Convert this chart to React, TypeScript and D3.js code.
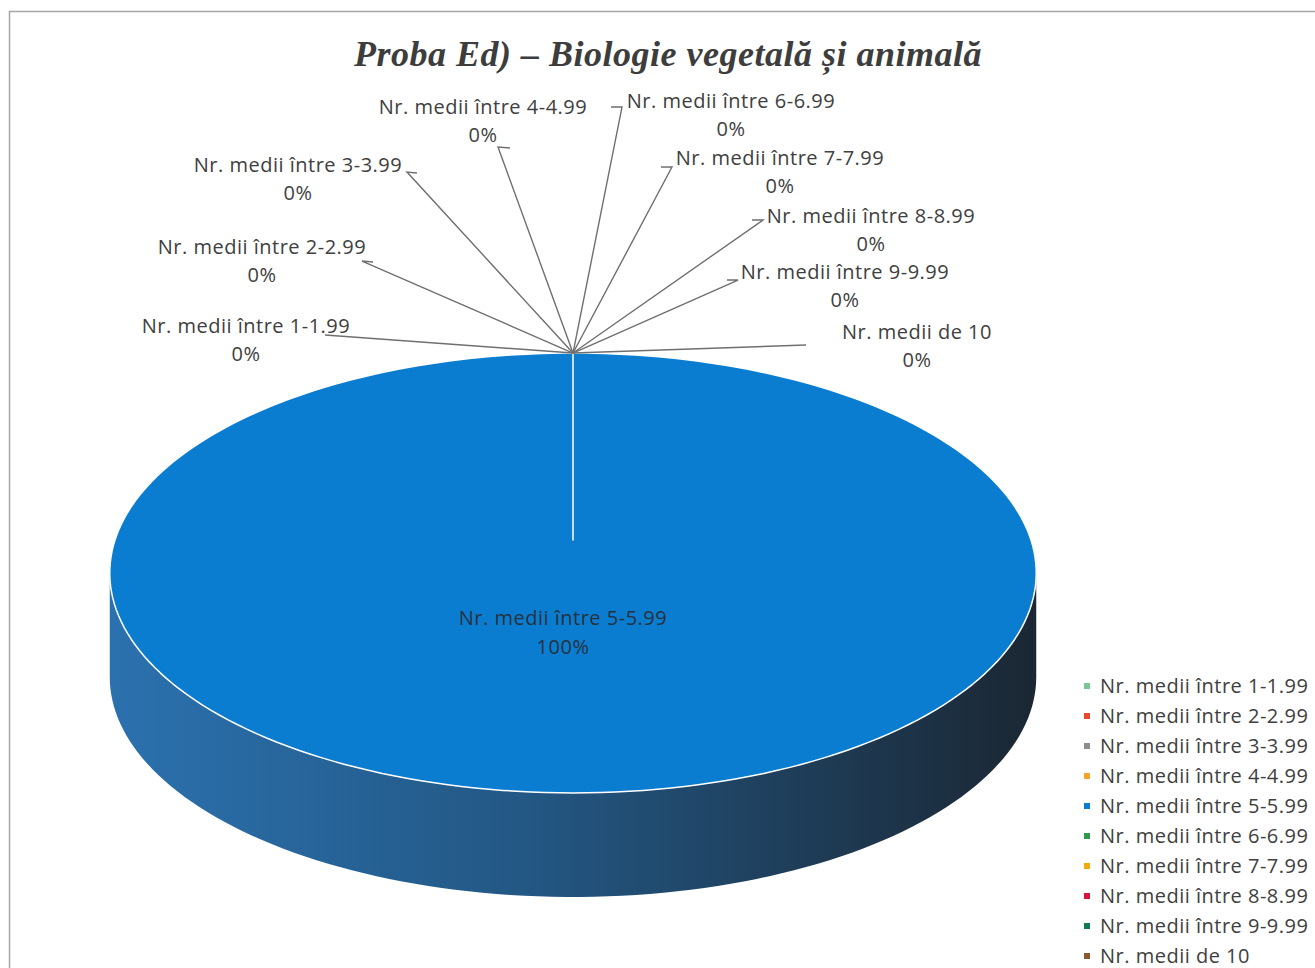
import React, { useRef, useEffect } from "react";
import * as d3 from "d3";

// categories and values (percent of students per average range)
const categories = [
  "Nr. medii între 1-1.99",
  "Nr. medii între 2-2.99",
  "Nr. medii între 3-3.99",
  "Nr. medii între 4-4.99",
  "Nr. medii între 5-5.99",
  "Nr. medii între 6-6.99",
  "Nr. medii între 7-7.99",
  "Nr. medii între 8-8.99",
  "Nr. medii între 9-9.99",
  "Nr. medii de 10",
];
const values = [0, 0, 0, 0, 1, 0, 0, 0, 0, 0];
const colors = [
  "#79c597",
  "#e8482e",
  "#8d8d8d",
  "#f4a62a",
  "#0b7dd1",
  "#2f9a4c",
  "#f5aa0c",
  "#d6163c",
  "#107b4f",
  "#8a5a2e",
];
const title = "Proba Ed) – Biologie vegetală și animală";

// hand placed label spots for the zero slices (offsets from the pie apex)
const labelSpots = [
  { tx: -327, ty: -27, ex: -248, ey: -18, hx: null },
  { tx: -311, ty: -106, ex: -211, ey: -92, hx: -200 },
  { tx: -275, ty: -188, ex: -166, ey: -181, hx: -156 },
  { tx: -90, ty: -246, ex: -75, ey: -206, hx: -63 },
  null,
  { tx: 158, ty: -252, ex: 49, ey: -246, hx: 38 },
  { tx: 207, ty: -195, ex: 99, ey: -186, hx: 88 },
  { tx: 298, ty: -137, ex: 190, ey: -133, hx: 179 },
  { tx: 272, ty: -81, ex: 165, ey: -73, hx: 154 },
  { tx: 344, ty: -21, ex: 233, ey: -8, hx: null },
];

const W = 1315;
const H = 968;

const App = () => {
  const ref = useRef(null);

  useEffect(() => {
    d3.select(ref.current).selectAll("*").remove();

    const svg = d3
      .select(ref.current)
      .append("svg")
      .attr("width", W)
      .attr("height", H)
      .style("display", "block");

    svg.append("rect").attr("width", W).attr("height", H).attr("fill", "#fff");
    svg
      .append("rect")
      .attr("x", 9.5)
      .attr("y", 11.5)
      .attr("width", W + 20)
      .attr("height", H + 20)
      .attr("fill", "none")
      .attr("stroke", "#a6a6a6")
      .attr("stroke-width", 1.5);

    // title
    svg
      .append("text")
      .attr("x", 668)
      .attr("y", 66)
      .attr("text-anchor", "middle")
      .attr("font-family", "'Liberation Serif', 'DejaVu Serif', serif")
      .attr("font-weight", "bold")
      .attr("font-style", "italic")
      .attr("font-size", 36)
      .attr("letter-spacing", 0.5)
      .attr("fill", "#3d3d3d")
      .text(title);

    // 3D pie geometry: disk projected with mild perspective
    const cx = 573;
    const cy = 540;
    const rx = 458;
    const ry = 215;
    const persp = 0.15;
    const depth = 104;

    const proj = (u, w, dy = 0) => {
      const s = 1 / (1 - persp * w);
      return [cx + rx * u * s, cy + ry * w * s + dy];
    };
    // pie angle a: 0 at back (12 o'clock), clockwise
    const onRim = (a, r = 1, dy = 0) => proj(Math.sin(a) * r, -Math.cos(a) * r, dy);

    const pie = d3.pie().sort(null).value((d) => d)(values);
    const data = pie.map((p, i) => ({ ...p, name: categories[i], color: colors[i] }));

    const line = d3.line();
    const arcPts = (a0, a1, dy = 0) => {
      const n = Math.max(2, Math.ceil(((a1 - a0) / (2 * Math.PI)) * 240));
      return d3.range(n + 1).map((k) => onRim(a0 + ((a1 - a0) * k) / n, 1, dy));
    };

    // side wall gradient
    const defs = svg.append("defs");
    const grad = defs
      .append("linearGradient")
      .attr("id", "side")
      .attr("x1", 0)
      .attr("x2", 1)
      .attr("y1", 0)
      .attr("y2", 0);
    grad.append("stop").attr("offset", "0%").attr("stop-color", "#2b71ae");
    grad.append("stop").attr("offset", "45%").attr("stop-color", "#235784");
    grad.append("stop").attr("offset", "100%").attr("stop-color", "#1b2733");

    // front wall, visible between silhouette angles
    const tR = Math.PI / 2 + Math.asin(persp);
    const tL = (3 * Math.PI) / 2 - Math.asin(persp);
    data
      .filter((d) => d.endAngle > d.startAngle)
      .forEach((d) => {
        const a0 = Math.max(d.startAngle, tR);
        const a1 = Math.min(d.endAngle, tL);
        if (a1 <= a0) return;
        const top = arcPts(a0, a1);
        const bot = arcPts(a0, a1, depth).reverse();
        svg
          .append("path")
          .attr("d", line([...top, ...bot]) + "Z")
          .attr("fill", "url(#side)");
      });

    // top faces
    const c0 = proj(0, 0);
    data
      .filter((d) => d.endAngle > d.startAngle)
      .forEach((d) => {
        const pts = arcPts(d.startAngle, d.endAngle);
        svg
          .append("path")
          .attr("d", line([c0, ...pts]) + "Z")
          .attr("fill", d.color)
          .attr("stroke", "#fff")
          .attr("stroke-width", 1.5)
          .attr("stroke-linejoin", "round");
      });

    const fmt = d3.format(".0%");
    const labelFont = "'Open Sans', 'Noto Sans', sans-serif";
    const labelSize = 20;
    const spacing = 0.5;
    const apex = onRim(0);

    // labels
    data.forEach((d, i) => {
      const spot = labelSpots[i];
      if (d.endAngle > d.startAngle) {
        const mid = (d.startAngle + d.endAngle) / 2;
        const [lx, ly] = onRim(mid, 0.43);
        const t = svg
          .append("text")
          .attr("y", ly - 14)
          .attr("text-anchor", "middle")
          .attr("font-family", labelFont)
          .attr("font-size", labelSize)
          .attr("letter-spacing", spacing)
          .attr("fill", "#26313d");
        t.append("tspan").attr("x", lx - 10).text(d.name);
        t.append("tspan").attr("x", lx - 10).attr("dy", 29).text(fmt(d.value / d3.sum(values)));
        return;
      }
      if (!spot) return;
      const start = onRim(d.startAngle);
      const pts = [start, [apex[0] + spot.ex, apex[1] + spot.ey]];
      if (spot.hx !== null) pts.push([apex[0] + spot.hx, apex[1] + spot.ey + (spot.hx > 0 ? 0 : 1)]);
      svg
        .append("path")
        .attr("d", line(pts))
        .attr("fill", "none")
        .attr("stroke", "#6f6f6f")
        .attr("stroke-width", 1.4);
      const x = apex[0] + spot.tx;
      const t = svg
        .append("text")
        .attr("y", apex[1] + spot.ty + 7)
        .attr("text-anchor", "middle")
        .attr("font-family", labelFont)
        .attr("font-size", labelSize)
        .attr("letter-spacing", spacing)
        .attr("fill", "#404040");
      t.append("tspan").attr("x", x).text(d.name);
      t.append("tspan").attr("x", x).attr("dy", 28).text(fmt(d.value));
    });

    // legend
    const legendY = d3.scalePoint().domain(categories).range([686, 956]);
    const lg = svg.append("g");
    categories.forEach((c, i) => {
      const y = legendY(c);
      lg.append("rect")
        .attr("x", 1084)
        .attr("y", y - 3)
        .attr("width", 6)
        .attr("height", 6)
        .attr("fill", colors[i]);
      lg.append("text")
        .attr("x", 1100)
        .attr("y", y + 7)
        .attr("font-family", labelFont)
        .attr("font-size", labelSize)
        .attr("letter-spacing", spacing)
        .attr("fill", "#404040")
        .text(c);
    });
  }, []);

  return <div ref={ref} style={{ position: "absolute", left: 0, top: 0 }}></div>;
};

export default App;
